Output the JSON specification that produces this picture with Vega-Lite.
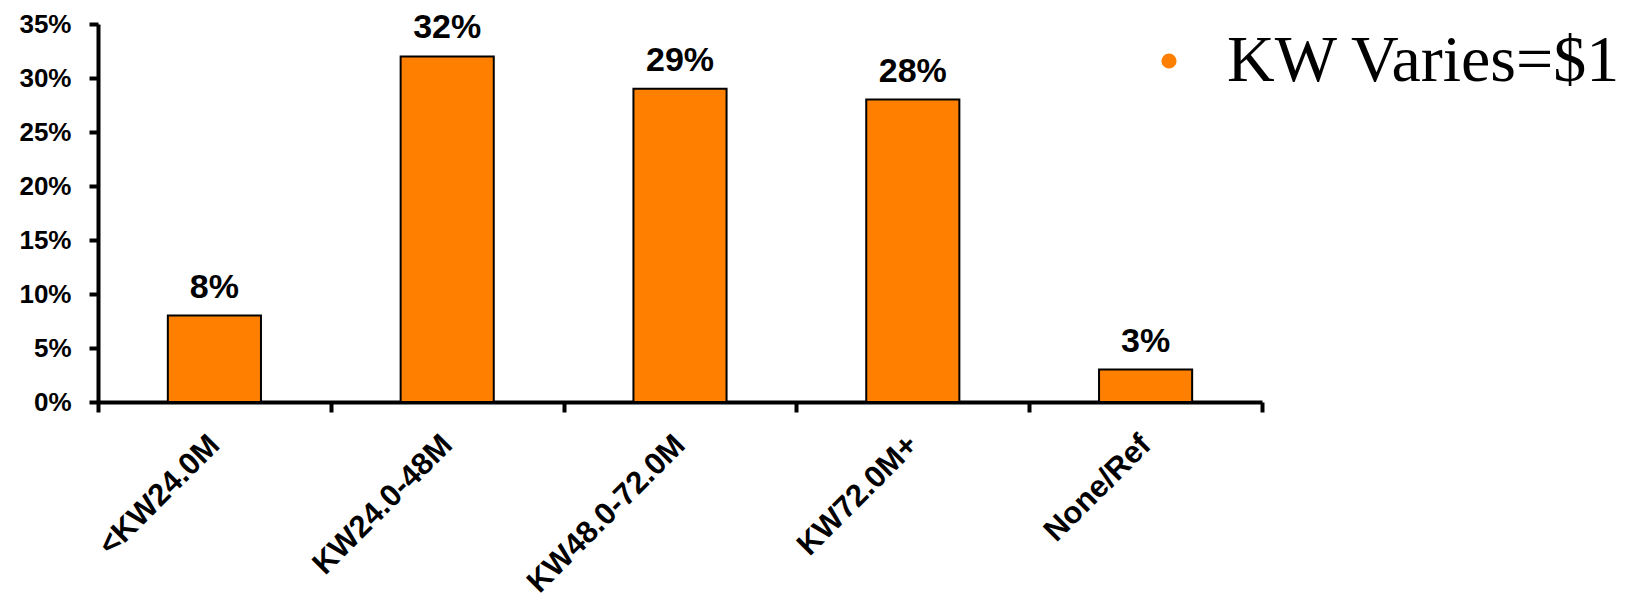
{
  "$schema": "https://vega.github.io/schema/vega-lite/v6.json",
  "autosize": "none",
  "width": 1164,
  "height": 378,
  "padding": {"left": 98, "top": 24, "right": 386, "bottom": 203},
  "background": "white",
  "config": {"view": {"stroke": null}},
  "data": {
    "values": [
      {"band": "<KW24.0M", "share": 0.08, "series": "KW Varies=$1"},
      {"band": "KW24.0-48M", "share": 0.32, "series": "KW Varies=$1"},
      {"band": "KW48.0-72.0M", "share": 0.29, "series": "KW Varies=$1"},
      {"band": "KW72.0M+", "share": 0.28, "series": "KW Varies=$1"},
      {"band": "None/Ref", "share": 0.03, "series": "KW Varies=$1"}
    ]
  },
  "encoding": {
    "x": {
      "field": "band",
      "type": "nominal",
      "sort": null,
      "title": null,
      "scale": {"paddingInner": 0, "paddingOuter": 0},
      "axis": {
        "domainColor": "black",
        "domainWidth": 4,
        "tickColor": "black",
        "tickWidth": 4,
        "tickSize": 10,
        "tickBand": "extent",
        "labelAngle": -45,
        "labelAlign": "right",
        "labelBaseline": "middle",
        "labelPadding": 28,
        "labelFont": "Liberation Sans",
        "labelFontWeight": "bold",
        "labelFontSize": 31,
        "labelColor": "black",
        "labelLimit": 400
      }
    },
    "y": {
      "field": "share",
      "type": "quantitative",
      "title": null,
      "scale": {"domain": [0, 0.35], "nice": false},
      "axis": {
        "values": [0, 0.05, 0.1, 0.15, 0.2, 0.25, 0.3, 0.35],
        "format": ".0%",
        "grid": false,
        "domainColor": "black",
        "domainWidth": 4,
        "tickColor": "black",
        "tickWidth": 4,
        "tickSize": 9,
        "labelPadding": 18,
        "labelFont": "Liberation Sans",
        "labelFontWeight": "bold",
        "labelFontSize": 26,
        "labelColor": "black"
      }
    }
  },
  "layer": [
    {
      "mark": {"type": "bar", "stroke": "black", "strokeWidth": 2, "width": {"band": 0.4}},
      "encoding": {
        "fill": {
          "field": "series",
          "type": "nominal",
          "scale": {"range": ["#FF8000"]},
          "legend": {
            "title": null,
            "orient": "none",
            "legendX": 1038,
            "legendY": 4,
            "symbolType": "circle",
            "symbolSize": 230,
            "symbolStrokeWidth": 0,
            "labelOffset": 25,
            "labelFont": "Liberation Serif",
            "labelFontSize": 66,
            "labelColor": "black",
            "labelLimit": 600,
            "encode": {"symbols": {"update": {"fill": {"value": "#E0801F"}}}}
          }
        }
      }
    },
    {
      "mark": {
        "type": "text",
        "baseline": "alphabetic",
        "dy": -18,
        "font": "Liberation Sans",
        "fontWeight": "bold",
        "fontSize": 34,
        "color": "black"
      },
      "encoding": {
        "text": {"field": "share", "type": "quantitative", "format": ".0%"}
      }
    }
  ]
}
